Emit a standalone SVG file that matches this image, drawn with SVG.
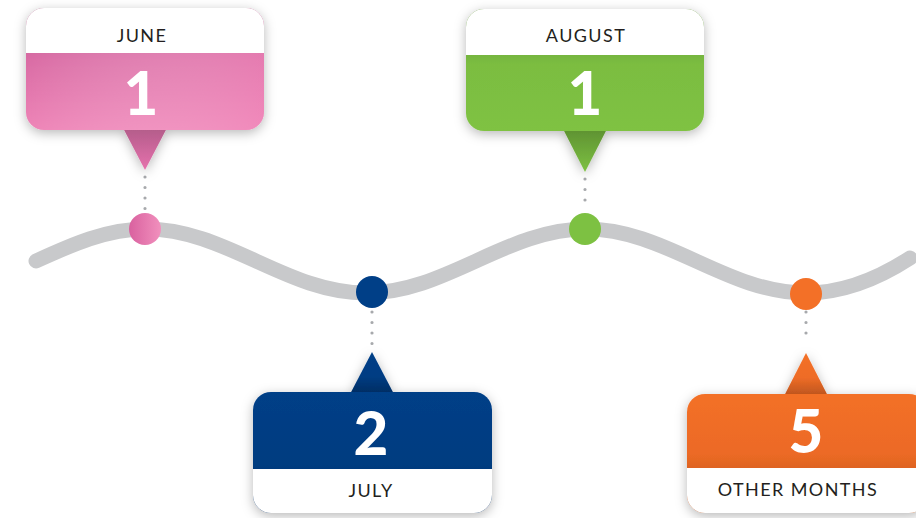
<svg xmlns="http://www.w3.org/2000/svg" width="916" height="518" viewBox="0 0 916 518">
<defs>
<filter id="sh" x="-20%" y="-20%" width="140%" height="150%">
<feDropShadow dx="0" dy="3" stdDeviation="6" flood-color="#000" flood-opacity="0.28"/>
</filter>
<linearGradient id="gPink" x1="0" y1="0" x2="0" y2="1">
<stop offset="0" stop-color="#a3567f"/><stop offset="0.4" stop-color="#d96ba4"/><stop offset="1" stop-color="#ee84b7"/>
</linearGradient>
<linearGradient id="gPinkH" x1="0" y1="0" x2="1" y2="0">
<stop offset="0" stop-color="#ffffff" stop-opacity="0"/><stop offset="1" stop-color="#f590c0" stop-opacity="0.45"/>
</linearGradient>
<linearGradient id="gPinkT" x1="0" y1="0" x2="0" y2="1">
<stop offset="0" stop-color="#b05b88"/><stop offset="1" stop-color="#e672ad"/>
</linearGradient>
<linearGradient id="gPinkC" x1="0" y1="0" x2="1" y2="0">
<stop offset="0" stop-color="#d9619f"/><stop offset="1" stop-color="#f190bd"/>
</linearGradient>
<linearGradient id="gGreen" x1="0" y1="0" x2="0" y2="1">
<stop offset="0" stop-color="#5a8b30"/><stop offset="0.45" stop-color="#7bbd41"/><stop offset="1" stop-color="#7fc243"/>
</linearGradient>
<linearGradient id="gGreenT" x1="0" y1="0" x2="0" y2="1">
<stop offset="0" stop-color="#5d8f31"/><stop offset="1" stop-color="#7dc142"/>
</linearGradient>
<linearGradient id="gNavy" x1="0" y1="0" x2="0" y2="1">
<stop offset="0" stop-color="#003f87"/><stop offset="0.6" stop-color="#003c80"/><stop offset="1" stop-color="#00295a"/>
</linearGradient>
<linearGradient id="gNavyT" x1="0" y1="0" x2="0" y2="1">
<stop offset="0" stop-color="#003f87"/><stop offset="0.55" stop-color="#003d83"/><stop offset="1" stop-color="#002a5d"/>
</linearGradient>
<linearGradient id="gOrange" x1="0" y1="0" x2="0" y2="1">
<stop offset="0" stop-color="#f37027"/><stop offset="0.5" stop-color="#ec6a25"/><stop offset="1" stop-color="#b4501c"/>
</linearGradient>
<linearGradient id="gOrangeT" x1="0" y1="0" x2="0" y2="1">
<stop offset="0" stop-color="#f37027"/><stop offset="0.55" stop-color="#ee6c26"/><stop offset="1" stop-color="#b5511d"/>
</linearGradient>
</defs>
<style>
.wave{fill:none;stroke:#c8c9cb;stroke-width:15;stroke-linecap:round}
.dots{fill:none;stroke:#a7a9ac;stroke-width:3.2;stroke-linecap:round;stroke-dasharray:0 10.5}
.lbl{font-family:Lato,"Liberation Sans",sans-serif;font-size:18px;letter-spacing:1.4px;fill:#231f20;text-anchor:middle}
.num{font-family:Lato,"Liberation Sans",sans-serif;font-weight:900;font-size:60px;fill:#fff;text-anchor:middle}
.hdr{fill:#fff}
</style>
<g id="connectors">
<path class="wave" d="M36,261 C71.9,244.6 106.2,229 146,229 C185.8,229 220.1,244.6 256,261 C291.9,277.4 326.2,293 366,293 C405.8,293 440.1,277.4 476,261 C511.9,244.6 546.2,229 586,229 C625.8,229 660.1,244.6 696,261 C731.9,277.4 766.2,293 806,293 C845.8,293 880.1,277.4 910,258"/>
<path class="dots" d="M145,177 V210"/>
<path class="dots" d="M585,179 V210"/>
<path class="dots" d="M372,312 V345"/>
<path class="dots" d="M806,312 V342"/>
</g>
<g id="june">
<g filter="url(#sh)">
<path d="M122,126 L145,170 L168,126 Z" fill="url(#gPinkT)"/>
<rect x="26" y="8" width="238" height="122" rx="18" fill="url(#gPink)"/>
</g>
<rect x="26" y="8" width="238" height="122" rx="18" fill="url(#gPinkH)"/>
<path class="hdr" d="M44,8 H246 A18,18 0 0 1 264,26 V53 H26 V26 A18,18 0 0 1 44,8 Z"/>
<text class="lbl" x="142" y="42">JUNE</text>
<text class="num" x="141" y="115">1</text>
<circle cx="145" cy="229" r="16" fill="url(#gPinkC)"/>
</g>
<g id="august">
<g filter="url(#sh)">
<path d="M562,127 L585,172 L608,127 Z" fill="url(#gGreenT)"/>
<rect x="466" y="9" width="238" height="122" rx="18" fill="url(#gGreen)"/>
</g>
<path class="hdr" d="M484,9 H686 A18,18 0 0 1 704,27 V55 H466 V27 A18,18 0 0 1 484,9 Z"/>
<text class="lbl" x="586" y="42">AUGUST</text>
<text class="num" x="585" y="115">1</text>
<circle cx="585" cy="229" r="16" fill="#7dc142"/>
</g>
<g id="july">
<g filter="url(#sh)">
<path d="M349,396 L372,352 L395,396 Z" fill="url(#gNavyT)"/>
<rect x="253" y="392" width="239" height="121" rx="18" fill="url(#gNavy)"/>
</g>
<path class="hdr" d="M253,469 H492 V495 A18,18 0 0 1 474,513 H271 A18,18 0 0 1 253,495 Z"/>
<text class="num" x="371" y="455">2</text>
<text class="lbl" x="371" y="497">JULY</text>
<circle cx="372" cy="292" r="16" fill="#003f87"/>
</g>
<g id="other-months">
<g filter="url(#sh)">
<path d="M783,398 L806,353 L829,398 Z" fill="url(#gOrangeT)"/>
<rect x="687" y="394" width="240" height="119" rx="18" fill="url(#gOrange)"/>
</g>
<path class="hdr" d="M687,468 H927 V495 A18,18 0 0 1 909,513 H705 A18,18 0 0 1 687,495 Z"/>
<text class="num" x="806" y="453">5</text>
<text class="lbl" x="798" y="496">OTHER MONTHS</text>
<circle cx="806" cy="294" r="16" fill="#f37027"/>
</g>
</svg>
